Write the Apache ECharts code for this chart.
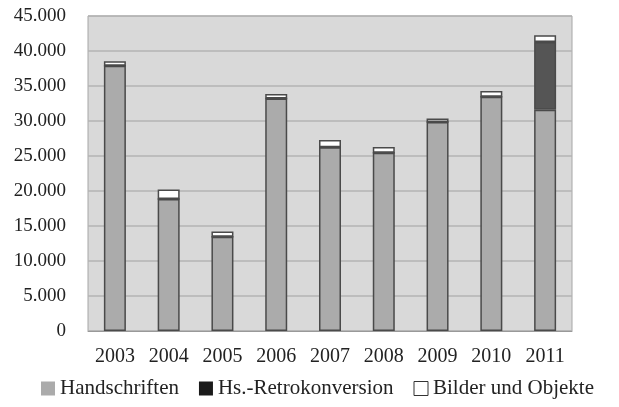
<!DOCTYPE html>
<html>
<head>
<meta charset="utf-8">
<script src="https://cdn.jsdelivr.net/npm/echarts@6/dist/echarts.min.js"></script>
<style>
    html, body { margin: 0; padding: 0; background: #fff; }
    #main { width: 619px; height: 407px; }
</style>
</head>
<body>
<div id="main"></div>
<script>
// Jahre und Werte
var years = ['2003', '2004', '2005', '2006', '2007', '2008', '2009', '2010', '2011'];
var handschriften = [37900, 18850, 13450, 33200, 26250, 25450, 29850, 33450, 31600];
var retrokonversion = [0, 0, 0, 0, 0, 0, 0, 0, 9700];
var bilder = [650, 1350, 750, 650, 1050, 850, 500, 850, 950];

var font = '"Liberation Serif", "DejaVu Serif", serif';

var myChart = echarts.init(document.getElementById('main'));
myChart.setOption({
    animation: false,
    textStyle: { fontFamily: font },
    grid: {
        left: 88,
        right: 47,
        top: 16,
        bottom: 76,
        show: true,
        backgroundColor: '#d9d9d9',
        borderColor: '#a6a6a6',
        borderWidth: 1
    },
    legend: {
        bottom: 3,
        left: 36,
        itemWidth: 14,
        itemHeight: 14,
        itemGap: 20,
        icon: 'rect',
        textStyle: { fontFamily: font, fontSize: 21, color: '#222' },
        data: [
            { name: 'Handschriften', itemStyle: { color: '#ababab', borderWidth: 0 } },
            { name: 'Hs.-Retrokonversion', itemStyle: { color: '#1a1a1a', borderWidth: 0 } },
            { name: 'Bilder und Objekte', itemStyle: { color: '#fff', borderColor: '#333', borderWidth: 1 } }
        ]
    },
    xAxis: {
        type: 'category',
        data: years,
        axisLine: { lineStyle: { color: '#999' } },
        axisTick: { show: false },
        axisLabel: { fontFamily: font, fontSize: 20, color: '#222', margin: 16 }
    },
    yAxis: {
        type: 'value',
        min: 0,
        max: 45000,
        interval: 5000,
        axisLine: { show: false },
        axisTick: { show: false },
        splitLine: { lineStyle: { color: '#b3b3b3', width: 1.5 } },
        axisLabel: {
            fontFamily: font,
            fontSize: 19,
            color: '#222',
            margin: 22,
            formatter: function (v) {
                return v === 0 ? '0' : (v / 1000) + '.000';
            }
        }
    },
    series: [
        {
            name: 'Handschriften',
            type: 'bar',
            stack: 'total',
            barWidth: 22,
            itemStyle: { color: '#ababab', borderColor: '#4a4a4a', borderWidth: 1.5 },
            data: handschriften
        },
        {
            name: 'Hs.-Retrokonversion',
            type: 'bar',
            stack: 'total',
            itemStyle: { color: '#555555', borderColor: '#4a4a4a', borderWidth: 1.5 },
            data: retrokonversion
        },
        {
            name: 'Bilder und Objekte',
            type: 'bar',
            stack: 'total',
            itemStyle: { color: '#ffffff', borderColor: '#4a4a4a', borderWidth: 1.5 },
            data: bilder
        }
    ]
});
</script>
</body>
</html>
